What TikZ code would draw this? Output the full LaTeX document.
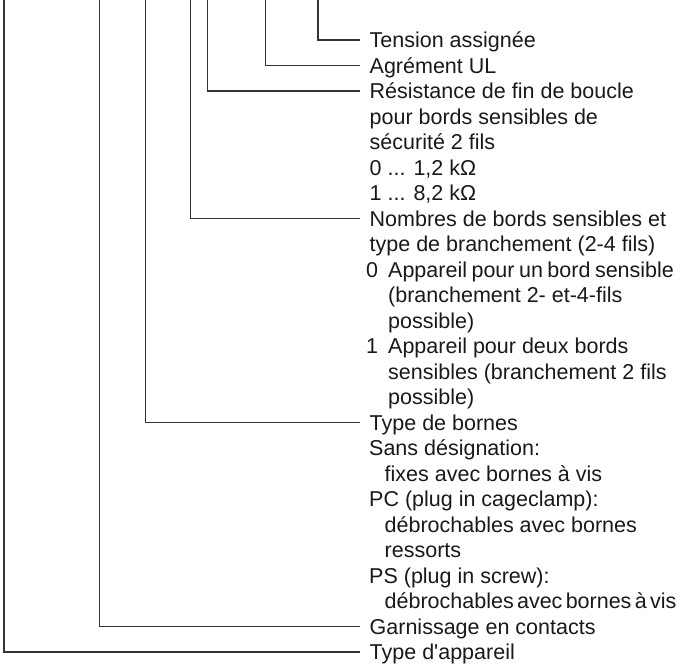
\documentclass[tikz,border=0pt]{standalone}
\usepackage{fontspec}
\setmainfont{Liberation Sans}

\tikzset{
  lbl/.style={anchor=west, inner sep=0pt, text height=15.4pt, text depth=0pt, text=black!90},
  lead/.style={draw=black!80, line width=1.2pt, shorten >=9.5pt},
}

\begin{document}
\begin{tikzpicture}[x=1pt, y=-1pt, font=\fontsize{21.5}{25.5}\selectfont]
\useasboundingbox (0,0) rectangle (680,667);

% leads come in from the top edge
\coordinate (k1) at (4,0);
\coordinate (k2) at (99.3,0);
\coordinate (k3) at (145.7,0);
\coordinate (k4) at (190.7,0);
\coordinate (k5) at (207.7,0);
\coordinate (k6) at (265.3,0);
\coordinate (k7) at (318,0);

% texts
\node (tension) [lbl] at (369.5,40) {Tension assignée};
\node (agrement) [lbl] at (369.5,65.5) {Agrément UL};
\node (resistance) [lbl] at (369.5,91) {Résistance de fin de boucle};
\node (res1) [lbl] at (369.5,116.5) {pour bords sensibles de};
\node (res2) [lbl] at (369.5,142) {sécurité 2 fils};
\node (res3) [lbl] at (369.5,167.5) {0 ... 1,2 kΩ};
\node (res4) [lbl] at (369.5,193) {1 ... 8,2 kΩ};

\node (nombres) [lbl] at (369.5,218.5) {Nombres de bords sensibles et};
\node (nb1) [lbl] at (369.5,244) {type de branchement (2-4 fils)};
\node (nb0key) [lbl] at (366,269.5) {0};
\node (nb0a) [lbl] at (388,269.5) {\spaceskip=4.5pt Appareil pour un bord sensible};
\node (nb0b) [lbl] at (388,295) {(branchement 2- et-4-fils};
\node (nb0c) [lbl] at (388,320.5) {possible)};
\node (nb1key) [lbl] at (366,346) {1};
\node (nb1a) [lbl] at (388,346) {Appareil pour deux bords};
\node (nb1b) [lbl] at (388,371.5) {sensibles (branchement 2 fils};
\node (nb1c) [lbl] at (388,397) {possible)};

\node (bornes) [lbl] at (369.5,422.5) {Type de bornes};
\node (bo1) [lbl] at (369,448) {Sans désignation:};
\node (bo2) [lbl] at (384.5,473.5) {fixes avec bornes à vis};
\node (bo3) [lbl] at (369,499) {PC (plug in cageclamp):};
\node (bo4) [lbl] at (384.5,524.5) {débrochables avec bornes};
\node (bo5) [lbl] at (384.5,550) {ressorts};
\node (bo6) [lbl] at (369,575.5) {PS (plug in screw):};
\node (bo7) [lbl] at (384.5,601) {\spaceskip=3.3pt débrochables avec bornes à vis};

\node (garnissage) [lbl] at (369.5,626.5) {Garnissage en contacts};
\node (typeapp) [lbl] at (369.5,652) {Type d\textquotesingle appareil};

% leads
\draw [lead] (k7) |- (tension.west);
\draw [lead] (k6) |- (agrement.west);
\draw [lead] (k5) |- (resistance.west);
\draw [lead] (k4) |- (nombres.west);
\draw [lead] (k3) |- (bornes.west);
\draw [lead] (k2) |- (garnissage.west);
\draw [lead] (k1) |- (typeapp.west);
\end{tikzpicture}
\end{document}
